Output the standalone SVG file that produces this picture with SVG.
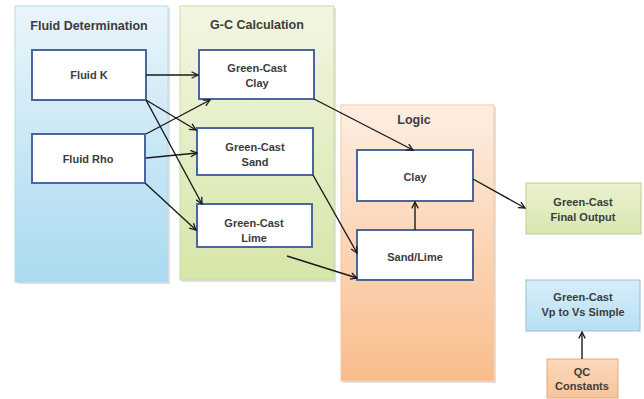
<svg xmlns="http://www.w3.org/2000/svg" width="644" height="399" viewBox="0 0 644 399">
<defs>
<linearGradient id="gBlue" x1="0" y1="0" x2="0" y2="1"><stop offset="0" stop-color="#eaf5fb"/><stop offset="1" stop-color="#a9daf0"/></linearGradient>
<linearGradient id="gGreen" x1="0" y1="0" x2="0" y2="1"><stop offset="0" stop-color="#f2f6e2"/><stop offset="1" stop-color="#d6e6a8"/></linearGradient>
<linearGradient id="gOrange" x1="0" y1="0" x2="0" y2="1"><stop offset="0" stop-color="#fdeee2"/><stop offset="1" stop-color="#f9bd8c"/></linearGradient>
<linearGradient id="gFinal" x1="0" y1="0" x2="0" y2="1"><stop offset="0" stop-color="#eaf1cf"/><stop offset="1" stop-color="#d9e7b0"/></linearGradient>
<linearGradient id="gVp" x1="0" y1="0" x2="0" y2="1"><stop offset="0" stop-color="#d7eef9"/><stop offset="1" stop-color="#b8e0f3"/></linearGradient>
<linearGradient id="gQC" x1="0" y1="0" x2="0" y2="1"><stop offset="0" stop-color="#fbd9bd"/><stop offset="1" stop-color="#f8c49a"/></linearGradient>
<marker id="arr" viewBox="0 0 10 10" refX="9" refY="5" markerWidth="8" markerHeight="8" markerUnits="userSpaceOnUse" orient="auto">
<path d="M1,1 L9,5 L1,9" fill="none" stroke="#1a1a1a" stroke-width="1.6"/>
</marker>
</defs>
<style>
text{font-family:"Liberation Sans",Arial,sans-serif;font-weight:bold;fill:#3c3c3c;text-anchor:middle}
.t{font-size:12.5px}
.n{font-size:11px}
.panel{stroke-width:1}
.shadow{fill:#cfcfcf;opacity:0.6}
.box{fill:#ffffff;stroke:#4a66a0;stroke-width:2}
.c{fill:none;stroke:#1a1a1a;stroke-width:1.4;marker-end:url(#arr)}
</style>
<rect width="644" height="399" fill="#ffffff"/>

<g id="panel-fluid">
<rect class="shadow" x="17" y="8" width="153" height="276"/>
<rect class="panel" x="15" y="6" width="153" height="276" fill="url(#gBlue)" stroke="#b7d9ea"/>
<text class="t" x="89" y="30">Fluid Determination</text>
</g>
<g id="panel-gc">
<rect class="shadow" x="182" y="8" width="154" height="274"/>
<rect class="panel" x="180" y="6" width="154" height="274" fill="url(#gGreen)" stroke="#cddba6"/>
<text class="t" x="257" y="29">G-C Calculation</text>
</g>
<g id="panel-logic">
<rect class="shadow" x="343" y="107" width="153" height="276"/>
<rect class="panel" x="341" y="105" width="153" height="276" fill="url(#gOrange)" stroke="#f3c7a2"/>
<text class="t" x="414" y="124">Logic</text>
</g>

<g id="fluid-k"><rect class="box" x="32" y="50" width="114" height="50"/><text class="n" x="89" y="79">Fluid K</text></g>
<g id="fluid-rho"><rect class="box" x="32" y="134" width="113" height="49"/><text class="n" x="88" y="163">Fluid Rho</text></g>

<g id="gc-clay"><rect class="box" x="199" y="50" width="115" height="49"/><text class="n" x="257" y="72">Green-Cast</text><text class="n" x="257" y="87">Clay</text></g>
<g id="gc-sand"><rect class="box" x="197" y="128" width="116" height="47"/><text class="n" x="255" y="151">Green-Cast</text><text class="n" x="255" y="166">Sand</text></g>
<g id="gc-lime"><rect class="box" x="197" y="204" width="115" height="43"/><text class="n" x="254" y="227">Green-Cast</text><text class="n" x="254" y="242">Lime</text></g>

<g id="logic-clay"><rect class="box" x="357" y="150" width="116" height="51"/><text class="n" x="415" y="181">Clay</text></g>
<g id="logic-sandlime"><rect class="box" x="357" y="230" width="116" height="50"/><text class="n" x="415" y="261">Sand/Lime</text></g>

<g id="final-output"><rect x="526" y="183" width="115" height="51" fill="url(#gFinal)" stroke="#bccf90" stroke-width="1"/><text class="n" x="583" y="206">Green-Cast</text><text class="n" x="583" y="221">Final Output</text></g>
<g id="vp-vs"><rect x="526" y="280" width="114" height="51" fill="url(#gVp)" stroke="#8fbfd8" stroke-width="1"/><text class="n" x="583" y="301">Green-Cast</text><text class="n" x="583" y="316">Vp to Vs Simple</text></g>
<g id="qc-constants"><rect x="547" y="359" width="71" height="39" fill="url(#gQC)" stroke="#e8a878" stroke-width="1"/><text class="n" x="582" y="376">QC</text><text class="n" x="582" y="390">Constants</text></g>

<g id="connectors">
<path class="c" d="M146,75 L198,75"/>
<path class="c" d="M146,100 L196,130"/>
<path class="c" d="M146,100 L202,204"/>
<path class="c" d="M146,134 L210,100"/>
<path class="c" d="M146,158 L197,153"/>
<path class="c" d="M145,183 L196,230"/>
<path class="c" d="M314,99 L413,150"/>
<path class="c" d="M313,175 L357,253"/>
<path class="c" d="M287,256 L357,278"/>
<path class="c" d="M415,230 L415,202"/>
<path class="c" d="M473,179 L525,208"/>
<path class="c" d="M582,359 L582,332"/>
</g>
</svg>
